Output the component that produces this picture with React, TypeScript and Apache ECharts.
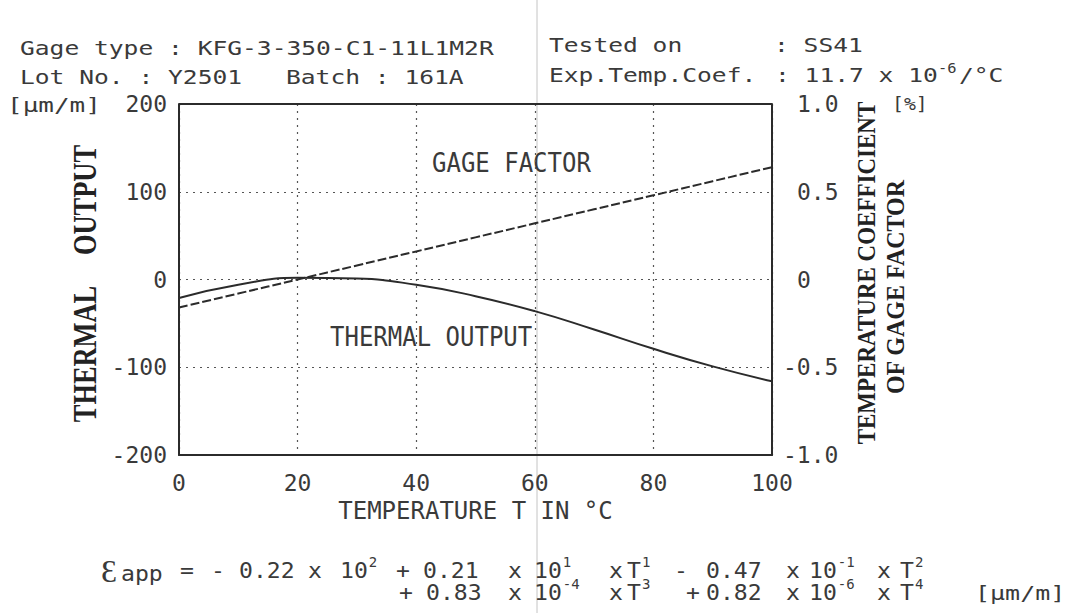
import React, { useEffect, useRef } from "react";
import * as echarts from "echarts";

// ---- data ----
const temperatures = [0, 10, 20, 30, 40, 50, 60, 70, 80, 90, 100];
const thermalOutput = [-21, -6, 2, 1, -6, -19, -36, -57, -79, -99, -116];
const gageFactorCoef = [-0.16, -0.08, 0.0, 0.08, 0.16, 0.24, 0.32, 0.4, 0.48, 0.56, 0.64];
const xTickLabels = ["0", "20", "40", "60", "80", "100"];
const leftTickLabels = ["-200", "-100", "0", "100", "200"];
const rightTickLabels = ["-1.0", "-0.5", "0", "0.5", "1.0"];

const INK = "#2b2b2b";
const TEXT = "#3a3a3a";
const MONO = '"DejaVu Sans Mono", monospace';
const SERIF = '"Liberation Serif", "DejaVu Serif", serif';

function txt(x: number, y: number, text: string, o: any = {}) {
  return {
    type: "text",
    x,
    y,
    scaleX: o.scaleX ?? 1,
    scaleY: o.scaleY ?? 1,
    rotation: o.rotation ?? 0,
    silent: true,
    style: {
      text,
      font: o.font ?? `20px ${MONO}`,
      fill: o.fill ?? TEXT,
      align: o.align ?? "left",
      verticalAlign: o.verticalAlign ?? "middle",
    },
  };
}

// formula pieces: [x, base, superscript]
const formulaLine1: [number, string, string][] = [
  [180, "=", ""],
  [211, "-", ""],
  [239, "0.22", ""],
  [308, "x", ""],
  [340, "10", "2"],
  [396, "+", ""],
  [423, "0.21", ""],
  [508, "x", ""],
  [534, "10", "1"],
  [609, "x", ""],
  [627, "T", "1"],
  [674, "-", ""],
  [706, "0.47", ""],
  [786, "x", ""],
  [809, "10", "-1"],
  [877, "x", ""],
  [900, "T", "2"],
];
const formulaLine2: [number, string, string][] = [
  [399, "+", ""],
  [426, "0.83", ""],
  [508, "x", ""],
  [534, "10", "-4"],
  [609, "x", ""],
  [627, "T", "3"],
  [686, "+", ""],
  [706, "0.82", ""],
  [786, "x", ""],
  [809, "10", "-6"],
  [877, "x", ""],
  [900, "T", "4"],
];

function formulaElements(pieces: [number, string, string][], y: number) {
  const out: any[] = [];
  const sx = 1.05;
  const pitch = 22 * 0.602 * sx;
  pieces.forEach(([x, base, sup]) => {
    out.push(txt(x, y, base, { font: `22px ${MONO}`, scaleX: sx }));
    if (sup) {
      out.push(
        txt(x + base.length * pitch + 1, y - 8, sup, { font: `14px ${MONO}`, scaleX: 1.0 })
      );
    }
  });
  return out;
}

export default function App() {
  const ref = useRef<HTMLDivElement>(null);

  useEffect(() => {
    if (!ref.current) return;
    const chart = echarts.init(ref.current, undefined, { renderer: "svg" });

    const thermalData = temperatures.map((t, i) => [t, thermalOutput[i]]);
    const gfData = temperatures.map((t, i) => [t, gageFactorCoef[i]]);

    const graphic: any[] = [
      // scan fold line
      {
        type: "line",
        silent: true,
        shape: { x1: 537, y1: 0, x2: 537, y2: 613 },
        style: { stroke: "#c4c4c4", lineWidth: 1 },
        z: 0,
      },
      txt(20, 48, "Gage type : KFG-3-350-C1-11L1M2R", { scaleX: 1.23 }),
      txt(20, 77, "Lot No. : Y2501", { scaleX: 1.23 }),
      txt(286, 77, "Batch : 161A", { scaleX: 1.23 }),
      txt(549, 45, "Tested on", { scaleX: 1.23 }),
      txt(774, 45, ": SS41", { scaleX: 1.23 }),
      txt(549, 75, "Exp.Temp.Coef.", { scaleX: 1.23 }),
      txt(775, 75, ": 11.7 x 10", { scaleX: 1.23 }),
      txt(938, 68, "-6", { font: `14px ${MONO}`, scaleX: 1.1 }),
      txt(959, 75, "/°C", { scaleX: 1.23 }),
      txt(7, 105, "[µm/m]", { font: `20px ${MONO}`, scaleX: 1.3 }),
      txt(892, 103, "[%]", { font: `18px ${MONO}`, scaleX: 1.1 }),
      // axis titles
      txt(84, 200, "OUTPUT", {
        font: `bold 33px ${SERIF}`,
        rotation: Math.PI / 2,
        align: "center",
        scaleX: 0.8,
        fill: "#222",
      }),
      txt(84, 354, "THERMAL", {
        font: `bold 33px ${SERIF}`,
        rotation: Math.PI / 2,
        align: "center",
        scaleX: 0.8,
        fill: "#222",
      }),
      txt(867, 273, "TEMPERATURE COEFFICIENT", {
        font: `bold 25px ${SERIF}`,
        rotation: Math.PI / 2,
        align: "center",
        scaleX: 0.92,
        fill: "#222",
      }),
      txt(895, 287, "OF GAGE FACTOR", {
        font: `bold 25px ${SERIF}`,
        rotation: Math.PI / 2,
        align: "center",
        scaleX: 0.96,
        fill: "#222",
      }),
      // in-plot labels
      txt(432, 163, "GAGE FACTOR", { font: `24px ${MONO}`, scaleX: 1.0, scaleY: 1.1 }),
      txt(330, 337, "THERMAL OUTPUT", { font: `24px ${MONO}`, scaleX: 1.0, scaleY: 1.1 }),
      // formula
      txt(101, 571, "Ɛ", { font: `32px ${SERIF}` }),
      txt(121, 573, "app", { font: `22px ${MONO}`, scaleX: 1.05 }),
      ...formulaElements(formulaLine1, 570),
      ...formulaElements(formulaLine2, 592),
      txt(975, 593, "[µm/m]", { font: `20px ${MONO}`, scaleX: 1.25 }),
    ];

    chart.setOption({
      animation: false,
      backgroundColor: "#ffffff",
      grid: { left: 179, right: 298, top: 104, bottom: 158, show: false },
      xAxis: {
        type: "value",
        min: 0,
        max: 100,
        interval: 20,
        name: "TEMPERATURE T IN °C",
        nameLocation: "middle",
        nameGap: 44,
        nameTextStyle: { fontFamily: MONO, fontSize: 24, color: TEXT },
        axisLine: { show: true, onZero: false, lineStyle: { color: INK, width: 2 } },
        axisTick: { show: false },
        axisLabel: {
          fontFamily: MONO,
          fontSize: 23,
          color: TEXT,
          margin: 16,
          formatter: (v: number) => xTickLabels[Math.round(v / 20)] ?? "",
        },
        splitLine: { show: true, lineStyle: { color: "#555", type: [2, 5], width: 1.2 } },
      },
      yAxis: [
        {
          type: "value",
          min: -200,
          max: 200,
          interval: 100,
          position: "left",
          axisLine: { show: true, onZero: false, lineStyle: { color: INK, width: 2 } },
          axisTick: { show: false },
          axisLabel: {
            fontFamily: MONO,
            fontSize: 23,
            color: TEXT,
            margin: 12,
            formatter: (v: number) => leftTickLabels[Math.round((v + 200) / 100)] ?? "",
          },
          splitLine: { show: true, lineStyle: { color: "#555", type: [2, 5], width: 1.2 } },
        },
        {
          type: "value",
          min: -1,
          max: 1,
          interval: 0.5,
          position: "right",
          axisLine: { show: true, onZero: false, lineStyle: { color: INK, width: 2 } },
          axisTick: { show: false },
          axisLabel: {
            fontFamily: MONO,
            fontSize: 23,
            color: TEXT,
            margin: 11,
            formatter: (v: number) => {
              const s = rightTickLabels[Math.round((v + 1) / 0.5)] ?? "";
              return s.startsWith("-") ? `{n|${s}}` : `{p|${s}}`;
            },
            rich: {
              n: { fontFamily: MONO, fontSize: 23, color: TEXT },
              p: { fontFamily: MONO, fontSize: 23, color: TEXT, padding: [0, 0, 0, 14] },
            },
          },
          splitLine: { show: false },
        },
      ],
      series: [
        {
          name: "THERMAL OUTPUT",
          type: "line",
          yAxisIndex: 0,
          data: thermalData,
          smooth: true,
          showSymbol: false,
          lineStyle: { color: INK, width: 2 },
        },
        {
          name: "GAGE FACTOR",
          type: "line",
          yAxisIndex: 1,
          data: gfData,
          smooth: true,
          showSymbol: false,
          lineStyle: { color: INK, width: 2, type: [9, 3] },
        },
        {
          // top border of the frame
          type: "line",
          yAxisIndex: 0,
          data: [
            [0, 200],
            [100, 200],
          ],
          showSymbol: false,
          silent: true,
          lineStyle: { color: INK, width: 2 },
        },
      ],
      graphic,
    });

    return () => chart.dispose();
  }, []);

  return (
    <div
      ref={ref}
      style={{ position: "fixed", left: 0, top: 0, width: 1070, height: 613, background: "#fff" }}
    />
  );
}
